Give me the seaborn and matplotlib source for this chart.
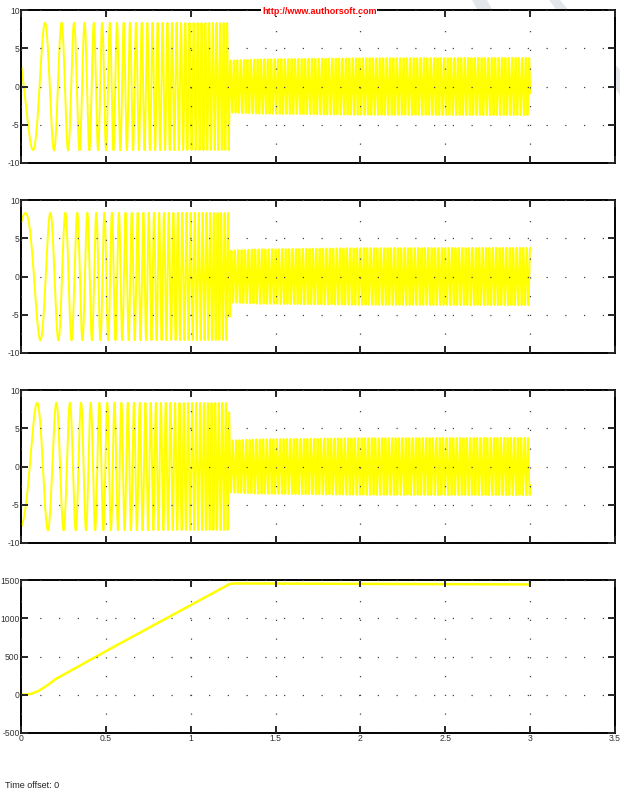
import numpy as np
import pandas as pd
import matplotlib
matplotlib.use('agg')
import matplotlib.pyplot as plt
from matplotlib.patches import Polygon
import seaborn as sns

sns.set_style('ticks')
plt.rcParams['font.family'] = ['Liberation Sans', 'DejaVu Sans']
plt.rcParams['axes.unicode_minus'] = False

# ---- values ----
# supply frequency ramp (Hz) at key times (s)
freq_t = [0.0, 1.23, 3.0]
freq_hz = [3.0, 50.0, 50.0]
# current envelope (A) at key times
amp_t = [0.0, 0.2, 1.225, 1.232, 1.4, 2.0, 3.0]
amp_a = [8.3, 8.35, 8.3, 3.4, 3.55, 3.7, 3.75]
# start phase of each of the three currents (rad)
phase0 = [1.22, -0.57, -2.86]
# rotor speed (rpm)
speed_t = [0.0, 0.03, 0.06, 0.1, 0.15, 0.2, 0.5, 1.0, 1.23, 1.26, 2.0, 3.0]
speed_rpm = [0, 2, 12, 45, 115, 200, 570, 1170, 1450, 1455, 1450, 1442]

t_end = 3.0
xticks = [0, 0.5, 1, 1.5, 2, 2.5, 3, 3.5]
xlabels = ['0', '0.5', '1', '1.5', '2', '2.5', '3', '3.5']

# ---- build traces from the read values ----
t = np.linspace(0, t_end, 30001)
f = np.interp(t, freq_t, freq_hz)
theta = 2 * np.pi * np.concatenate([[0], np.cumsum((f[1:] + f[:-1]) / 2 * np.diff(t))])
amp = np.interp(t, amp_t, amp_a)
currents = [amp * np.cos(theta + p) for p in phase0]
speed = np.interp(t, speed_t, speed_rpm)

fig = plt.figure(figsize=(6.2, 7.92), dpi=100)
W, H = 620, 792

# faint watermark bands, behind the axes
def band(pts):
    p = Polygon([[x / W, 1 - y / H] for x, y in pts], closed=True,
                transform=fig.transFigure, facecolor='#e3e7ec', edgecolor='none', zorder=-5)
    fig.patches.append(p)

band([(472, 0), (487, 0), (520, 60), (505, 60)])
band([(549, 0), (560, 0), (620, 70), (620, 95)])

boxes = [(10, 163), (200, 353), (390, 543), (580, 733)]
axes = []
for top, bot in boxes:
    ax = fig.add_axes([21 / W, 1 - bot / H, (615 - 21) / W, (bot - top) / H])
    axes.append(ax)

yel = '#ffff00'
for ax, y in zip(axes[:3], currents):
    sns.lineplot(x=t, y=y, ax=ax, color=yel, linewidth=1.4, sort=False, estimator=None)
    ax.set_ylim(-10, 10)
    ax.set_yticks([-10, -5, 0, 5, 10])

sns.lineplot(x=t, y=speed, ax=axes[3], color=yel, linewidth=1.8, sort=False, estimator=None)
axes[3].set_ylim(-500, 1500)
axes[3].set_yticks([-500, 0, 500, 1000, 1500])

for i, ax in enumerate(axes):
    ax.set_facecolor('white')
    ax.set_xlim(0, 3.5)
    ax.set_xticks(xticks)
    if i == 3:
        ax.set_xticklabels(xlabels)
    else:
        ax.set_xticklabels([])
    ax.set_xlabel('')
    ax.set_ylabel('')
    ax.grid(True, color='#444444', linestyle=(0, (1, 14)), linewidth=0.9)
    ax.set_axisbelow(False)
    for s in ax.spines.values():
        s.set_linewidth(1.4)
        s.set_color('black')
    ax.tick_params(direction='in', length=5, width=1.4, top=True, right=True,
                   labelsize=6.2, labelcolor='#333333', pad=1)

fig.text(262 / W, 1 - 11 / H, 'http://www.authorsoft.com', color='red', fontsize=6.5,
         fontweight='bold', va='center', ha='left',
         bbox=dict(facecolor='white', edgecolor='none', pad=0.5))
fig.text(5 / W, 1 - 786 / H, 'Time offset: 0', fontsize=6.5, color='#222222', va='center')

fig.savefig('out.png', dpi=100)
